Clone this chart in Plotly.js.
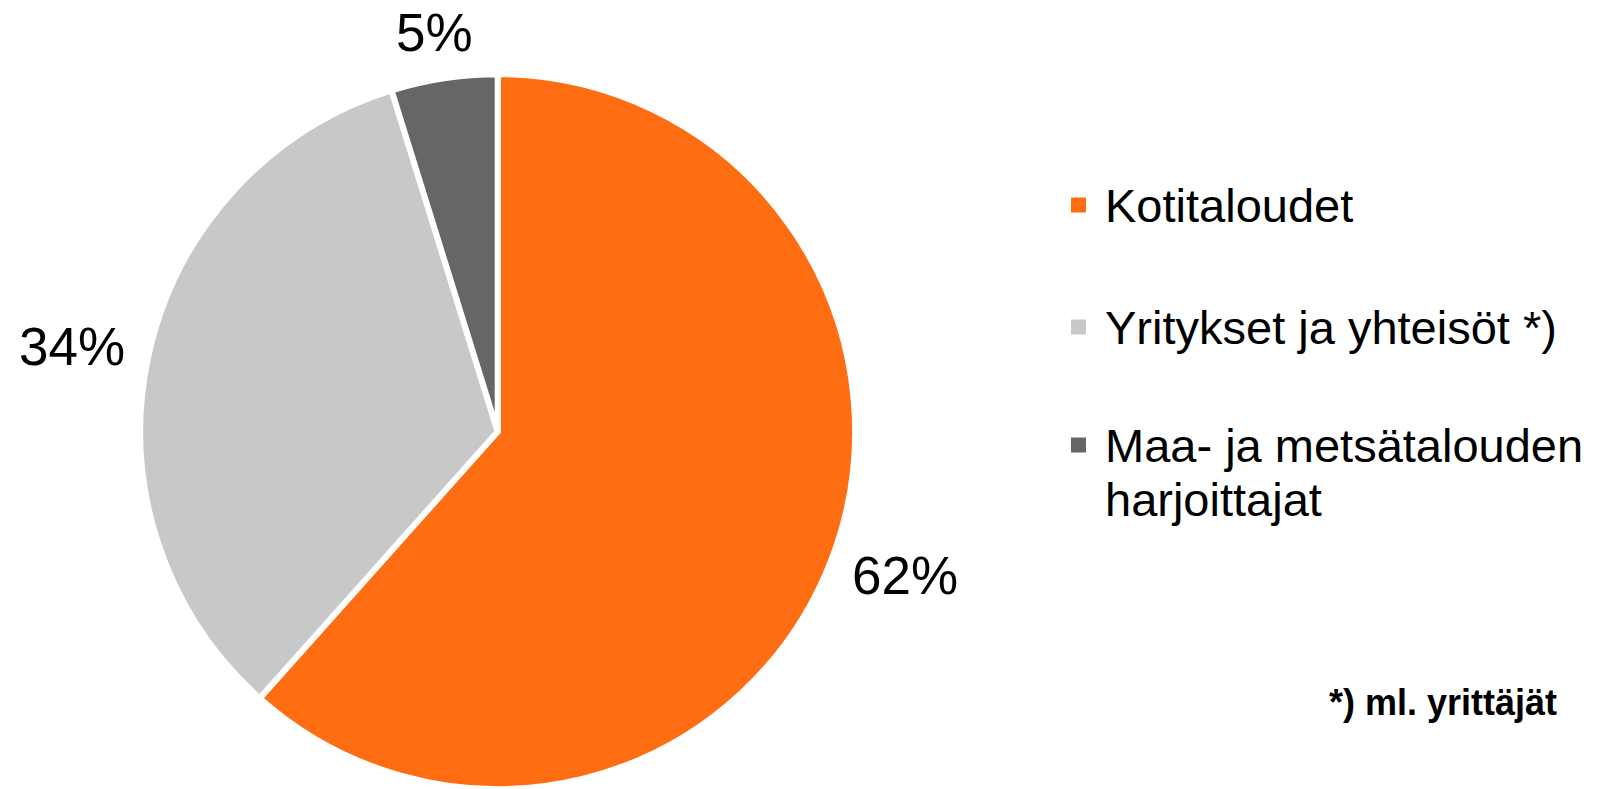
<!DOCTYPE html>
<html>
<head>
<meta charset="utf-8">
<script src="https://cdn.plot.ly/plotly-3.0.1.min.js"></script>
<style>html,body{margin:0;padding:0;background:#fff;}#chart{width:1604px;height:789px;}</style>
</head>
<body>
<div id="chart"></div>
<script>
// Data
const categories = ["Kotitaloudet", "Yritykset ja yhteisöt *)", "Maa- ja metsätalouden harjoittajat"];
const values = [61.6, 33.6, 4.8];
const colors = ["#FF6D12", "#C8C8C8", "#666666"];
const legendLines = [["Kotitaloudet"], ["Yritykset ja yhteisöt *)"], ["Maa- ja metsätalouden", "harjoittajat"]];
const footnote = "*) ml. yrittäjät";

const W = 1604, H = 789;
const FONT = "Liberation Sans, Arial, sans-serif";
const LABEL_SIZE = 53;

// pie geometry (pixels) derived from domain
const dom = { x: [0.0871, 0.5335], y: [0, 0.906] };
const R = Math.min((dom.x[1] - dom.x[0]) * W, (dom.y[1] - dom.y[0]) * H) / 2;
const CX = (dom.x[0] + dom.x[1]) / 2 * W;
const CY = H - (dom.y[0] + dom.y[1]) / 2 * H;

const trace = {
  type: "pie",
  labels: categories,
  values: values,
  sort: false,
  direction: "clockwise",
  rotation: 0,
  marker: { colors: colors, line: { color: "#ffffff", width: 6 } },
  textinfo: "none",
  showlegend: false,
  hoverinfo: "label+percent",
  domain: dom
};

const annotations = [];
const shapes = [];

// percentage labels placed outside each slice at its mid-angle
const total = values.reduce((a, b) => a + b, 0);
let cum = 0;
values.forEach((v, i) => {
  const frac = v / total;
  const mid = (cum + frac / 2) * 2 * Math.PI;
  cum += frac;
  const txt = Math.round(frac * 100) + "%";
  const s = Math.sin(mid), c = Math.cos(mid);
  const ex = CX + R * s, ey = CY - R * c;
  const nd = txt.length - 1;
  const hw = LABEL_SIZE * (0.556 * nd + 0.889) / 2;
  const hh = LABEL_SIZE * 0.4;
  const g = 25;
  const lx = ex + s * (g + hw);
  const ly = ey - c * (g + hh);
  annotations.push({
    xref: "paper", yref: "paper",
    x: lx / W, y: (H - ly) / H,
    xanchor: "center", yanchor: "middle",
    borderpad: 0,
    text: txt, showarrow: false,
    font: { family: FONT, size: LABEL_SIZE, color: "#000000" }
  });
});

// Legend built from annotations and shapes
const itemCenters = [205, 327, 445];
const lineGap = 54;
legendLines.forEach((lines, i) => {
  const cy = itemCenters[i];
  shapes.push({
    type: "rect", xref: "paper", yref: "paper",
    x0: 1071 / W, x1: 1086 / W,
    y0: (H - (cy - 7.5)) / H, y1: (H - (cy + 7.5)) / H,
    fillcolor: colors[i], line: { width: 0 }
  });
  lines.forEach((ln, j) => {
    annotations.push({
      xref: "paper", yref: "paper",
      x: 1103 / W, y: (H - (cy + j * lineGap)) / H,
      xanchor: "left", yanchor: "middle",
      text: ln, showarrow: false,
      font: { family: FONT, size: 47, color: "#000000" }
    });
  });
});
annotations.push({
  xref: "paper", yref: "paper",
  x: 1559 / W, y: (H - 702) / H,
  xanchor: "right", yanchor: "middle",
  text: "<b>" + footnote + "</b>", showarrow: false,
  font: { family: FONT, size: 36, color: "#000000" }
});

const layout = {
  width: W, height: H,
  margin: { l: 0, r: 0, t: 0, b: 0 },
  paper_bgcolor: "#ffffff",
  plot_bgcolor: "#ffffff",
  showlegend: false,
  annotations: annotations,
  shapes: shapes,
  font: { family: FONT }
};

Plotly.newPlot("chart", [trace], layout, { displayModeBar: false, staticPlot: true });
</script>
</body>
</html>
